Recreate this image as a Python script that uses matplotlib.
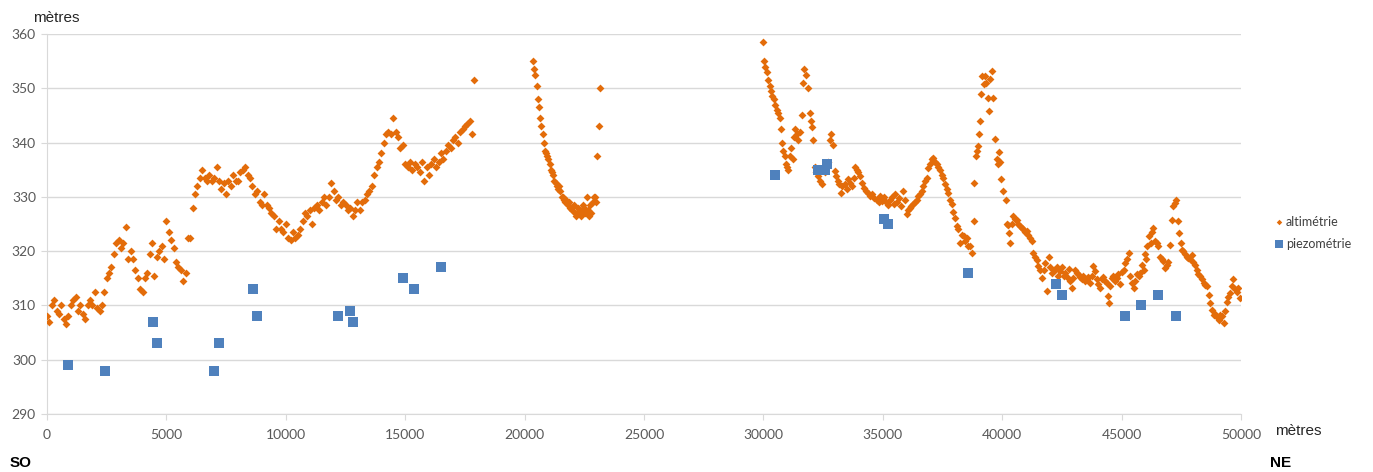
import matplotlib
matplotlib.use("Agg")
import matplotlib.pyplot as plt

# ---------------- data ----------------
# altimetry, segment A (SO part)
alt_x_a = [0, 100, 200, 300, 400, 500, 600, 700, 800, 900,
           1000, 1100, 1200, 1300, 1400, 1500, 1600, 1700, 1800, 1900,
           2000, 2100, 2200, 2300, 2400, 2500, 2600, 2700, 2800, 2900,
           3000, 3100, 3200, 3300, 3400, 3500, 3600, 3700, 3800, 3900,
           4000, 4100, 4200, 4300, 4400, 4500, 4600, 4700, 4800, 4900,
           5000, 5100, 5200, 5300, 5400, 5500, 5600, 5700, 5800, 5900,
           6000, 6100, 6200, 6300, 6400, 6500, 6600, 6700, 6800, 6900,
           7000, 7100, 7200, 7300, 7400, 7500, 7600, 7700, 7800, 7900,
           8000, 8100, 8200, 8300, 8400, 8500, 8600, 8700, 8800, 8900,
           9000, 9100, 9200, 9300, 9400, 9500, 9600, 9700, 9800, 9900,
           10000, 10100, 10200, 10300, 10400, 10500, 10600, 10700, 10800, 10900,
           11000, 11100, 11200, 11300, 11400, 11500, 11600, 11700, 11800, 11900,
           12000, 12100, 12200, 12300, 12400, 12500, 12600, 12700, 12800, 12900,
           13000, 13100, 13200, 13300, 13400, 13500, 13600, 13700, 13800, 13900,
           14000, 14100, 14200, 14300, 14400, 14500, 14600, 14700, 14800, 14900,
           15000, 15100, 15200, 15300, 15400, 15500, 15600, 15700, 15800, 15900,
           16000, 16100, 16200, 16300, 16400, 16500, 16600, 16700, 16800, 16900,
           17000, 17100, 17200, 17300, 17400, 17500, 17600, 17700, 17800, 17900]
alt_y_a = [308, 307, 310, 311, 309, 308.5, 310, 307.5, 306.5, 308,
           310, 311, 311.5, 309, 310, 308.5, 307.5, 310, 311, 310,
           312.5, 309.5, 309, 310, 312.5, 315, 316, 317, 319.5, 321.5,
           322, 320.5, 321.5, 324.5, 318.5, 320, 318.5, 316.5, 315, 313,
           312.5, 315, 316, 319.5, 321.5, 315.5, 319, 320, 321, 318.5,
           325.5, 323.5, 322, 320.5, 318, 317, 316.5, 314.5, 316, 322.5,
           322.5, 328, 330.5, 332, 333.5, 335, 333.5, 333, 334, 333,
           333.5, 335.5, 333, 331.5, 332.5, 330.5, 333, 332, 334, 333,
           333, 334.5, 335, 335.5, 334, 333.5, 332, 330.5, 331, 329,
           328.5, 330.5, 328.5, 328, 327, 326.5, 324, 325.5, 324, 323.5,
           325, 322.5, 322, 323.5, 322.5, 323, 324, 325.5, 327, 326.5,
           327.5, 325, 328, 328.5, 327.5, 329, 330, 328.5, 330, 332.5,
           331, 329.5, 330, 328.5, 329, 328.5, 327.5, 328, 326.5, 327.5,
           329, 327.5, 329, 329.5, 330.5, 331, 332, 334, 335.5, 336.5,
           338, 340, 341.5, 342, 341.5, 344.5, 342, 341, 339, 339.5,
           336, 335.5, 336.5, 335, 336, 335.5, 334.5, 336.5, 333, 335.5,
           334, 336, 337, 335.5, 336.5, 338, 337, 338.5, 339.5, 339,
           340.5, 341, 340, 342, 342.5, 343, 343.5, 344, 341.5, 351.5]

# altimetry, segment B
alt_x_b = [20350, 20400, 20450, 20500, 20550, 20600, 20650, 20700, 20750, 20800,
           20850, 20900, 20950, 21000, 21050, 21100, 21150, 21200, 21250, 21300,
           21350, 21400, 21450, 21500, 21550, 21600, 21650, 21700, 21750, 21800,
           21850, 21900, 21950, 22000, 22050, 22100, 22150, 22200, 22250, 22300,
           22350, 22400, 22450, 22500, 22550, 22600, 22650, 22700, 22750, 22800,
           22850, 22900, 22950, 23000, 23050, 23100, 23150]
alt_y_b = [355, 353.5, 352.5, 350.5, 348, 346.5, 344.5, 343, 341.5, 340,
           338.5, 338, 337.5, 337, 336, 335, 334.5, 334, 333, 332.5,
           332, 331.5, 332, 331, 330, 330, 329.5, 329, 329.5, 328.5,
           329, 328, 328, 327.5, 328.5, 327, 326.5, 327, 328, 327.5,
           326.5, 327, 328.5, 328, 327, 330, 327.5, 326.5, 328.5, 327,
           329, 330, 330, 329, 337.5, 343, 350]

# altimetry, segment C (NE part)
alt_x_c = [29970, 30030, 30080, 30150, 30200, 30260, 30310, 30370, 30430, 30490,
           30550, 30620, 30680, 30730, 30790, 30840, 30900, 30950, 30990, 31050,
           31100, 31160, 31220, 31280, 31330, 31400, 31460, 31530, 31610, 31670,
           31720, 31780, 31870, 31950, 31990, 32020, 32090, 32160, 32220, 32290,
           32360, 32440, 32510, 32580, 32650, 32720, 32790, 32850, 32920, 33000,
           33060, 33120, 33180, 33240, 33300, 33400, 33500, 33560, 33630, 33700,
           33780, 33850, 33910, 33980, 34050, 34120, 34200, 34280, 34380, 34450,
           34550, 34650, 34740, 34820, 34900, 34980, 35060, 35130, 35200, 35310,
           35380, 35450, 35520, 35600, 35680, 35760, 35860, 35930, 36000, 36070,
           36140, 36200, 36270, 36350, 36420, 36490, 36560, 36630, 36700, 36770,
           36840, 36910, 36980, 37050, 37120, 37190, 37260, 37330, 37400, 37470,
           37540, 37620, 37690, 37750, 37820, 37890, 37960, 38030, 38100, 38170,
           38240, 38310, 38380, 38450, 38520, 38580, 38650, 38730, 38800, 38840,
           38900, 38940, 38980, 39030, 39080, 39120, 39170, 39230, 39280, 39340,
           39420, 39460, 39500, 39560, 39620, 39700, 39770, 39830, 39880, 39920,
           39950, 40050, 40150, 40220, 40260, 40300, 40330, 40400, 40470, 40540,
           40610, 40680, 40750, 40820, 40890, 40960, 41030, 41100, 41170, 41240,
           41310, 41380, 41450, 41520, 41590, 41660, 41730, 41800, 41870, 41940,
           42010, 42080, 42150, 42210, 42280, 42350, 42430, 42500, 42570, 42640,
           42710, 42780, 42850, 42910, 42980, 43050, 43120, 43190, 43260, 43330,
           43400, 43470, 43540, 43610, 43680, 43750, 43820, 43890, 43960, 44030,
           44100, 44170, 44240, 44310, 44380, 44450, 44480, 44520, 44590, 44660,
           44730, 44800, 44870, 44940, 45010, 45080, 45150, 45220, 45290, 45360,
           45430, 45500, 45570, 45640, 45710, 45780, 45850, 45920, 45990, 46040,
           46080, 46150, 46220, 46290, 46330, 46400, 46470, 46540, 46610, 46680,
           46750, 46820, 46890, 46950, 47030, 47100, 47170, 47230, 47280, 47350,
           47420, 47480, 47520, 47590, 47660, 47730, 47800, 47870, 47940, 48010,
           48080, 48150, 48220, 48290, 48360, 48430, 48500, 48570, 48640, 48710,
           48780, 48850, 48920, 48990, 49060, 49130, 49200, 49270, 49340, 49400,
           49470, 49540, 49610, 49680, 49750, 49820, 49890, 49960]
alt_y_c = [358.5, 355, 354, 353, 351.5, 350.5, 349.5, 348.5, 348, 347,
           346, 345.5, 344.5, 342.5, 340, 338.5, 337.5, 336, 335.5, 335,
           337.5, 339, 337, 341, 342.5, 341.5, 340.5, 342, 345, 351,
           353.5, 352.5, 350, 345.5, 344, 342.8, 340.5, 335.5, 334.5, 333.8,
           333, 332.3, 335.5, 334.5, 336, 336.5, 340.5, 341.5, 339.5, 334.8,
           333.8, 333, 332.3, 330.8, 332, 332.3, 331.5, 333.2, 332.5, 332,
           333.5, 335.5, 335, 334.5, 333.8, 332.5, 331.7, 331, 330.8, 330.2,
           330.5, 329.8, 329.5, 329, 330.2, 329.2, 330, 329, 328.5, 329.5,
           330, 328.6, 330.5, 329, 329.8, 328.4, 331, 329.5, 326.8, 327.5,
           328, 328.4, 328.6, 329, 329.5, 330.1, 330.5, 331, 332, 332.9,
           333.5, 335.4, 336, 337, 337.2, 336.5, 336, 335.5, 335, 334,
           333.5, 332.3, 331.5, 330.8, 329.5, 328.6, 327.2, 326.1, 324.6, 324,
           321.5, 323, 322.7, 321.8, 322.5, 321, 320.9, 319.7, 325.5, 332.6,
           337.5, 338.5, 339.4, 341.5, 344, 349, 352.3, 350.7, 352.2, 351,
           348.3, 345.8, 351.7, 353.2, 348.3, 340.6, 336.9, 336, 338.3, 336.4,
           333.2, 331, 329.5, 325, 324.9, 323.4, 321.5, 325, 326.4, 326,
           325.8, 325, 324.6, 324.3, 324, 323.5, 323.7, 323, 322.5, 321.8,
           319.7, 319, 318.4, 317.2, 316.5, 315.1, 316.5, 317.9, 312.6, 319,
           317, 316, 316.6, 316.6, 317, 315.5, 316.3, 317, 315.4, 316,
           315.2, 316.8, 314.5, 313.2, 315, 316.6, 316, 315.8, 315.2, 314.8,
           315.4, 314.5, 314.8, 315.2, 314.1, 315.5, 317.2, 316.3, 314.8, 314,
           313.2, 314.8, 315.2, 314.5, 314.1, 311.7, 310.4, 313.5, 315.1, 315.4,
           314.5, 315, 315.7, 313.9, 316.2, 316.6, 317.8, 318.5, 319.7, 315.4,
           314.1, 313.2, 314.5, 315.7, 315.4, 316, 317.5, 316.6, 319.4, 318.5,
           320.9, 322.7, 321.5, 323.5, 324.3, 321.8, 321.5, 320.9, 319, 318.6,
           318.1, 316.9, 317.5, 318, 321.2, 325.8, 328.3, 328.8, 329.5, 325.5,
           323.4, 321.5, 320.3, 320, 319.5, 319, 318.8, 318.5, 319.2, 318,
           317.5, 316.5, 315.8, 315.4, 314.8, 314.1, 313.8, 313.5, 311.9, 310.5,
           309.2, 308.3, 308.5, 307.8, 307.4, 308.3, 308, 306.8, 309, 310.7,
           311.5, 312.2, 313.5, 314.8, 313, 312.5, 313.2, 311.4]

# piezometry
piezo_x = [900, 2430, 4440, 4600, 6990, 7200, 8630, 8800, 12190, 12690,
           12810, 14910, 15370, 16500, 30490, 32290, 32580, 32680, 35050, 35220,
           38570, 42250, 42500, 45140, 45810, 46520, 47280]
piezo_y = [299, 298, 307, 303, 298, 303, 313, 308, 308, 309,
           307, 315, 313, 317, 334, 335, 335, 336, 326, 325,
           316, 314, 312, 308, 310, 312, 308]

x_ticks = [0, 5000, 10000, 15000, 20000, 25000, 30000, 35000, 40000, 45000, 50000]
y_ticks = [290, 300, 310, 320, 330, 340, 350, 360]
series_names = ["altimétrie", "piezométrie"]
axis_unit = "mètres"
dir_left, dir_right = "SO", "NE"

# ---------------- styling ----------------
ORANGE = "#E36C0A"
BLUE = "#4F81BD"
GRID = "#D9D9D9"
TXT = "#595959"

plt.rcParams["font.family"] = ["Lato", "DejaVu Sans"]

W, H = 1373, 472
fig = plt.figure(figsize=(W / 100, H / 100), dpi=100)
ax = fig.add_axes([47 / W, 1 - 414 / H, (1241 - 47) / W, (414 - 34) / H])

alt_x = alt_x_a + alt_x_b + alt_x_c
alt_y = alt_y_a + alt_y_b + alt_y_c
ax.scatter(alt_x, alt_y, marker="D", s=16, color=ORANGE, linewidths=0,
           label=series_names[0], zorder=3)
ax.scatter(piezo_x, piezo_y, marker="s", s=52, color=BLUE, linewidths=0,
           label=series_names[1], zorder=4)

ax.set_xlim(0, 50000)
ax.set_ylim(290, 360)
ax.set_xticks(x_ticks)
ax.set_yticks(y_ticks)
ax.set_xticklabels([str(v) for v in x_ticks])
ax.set_yticklabels([str(v) for v in y_ticks])
ax.grid(axis="y", color=GRID, linewidth=1)
ax.set_axisbelow(True)
for s in ["top", "right"]:
    ax.spines[s].set_visible(False)
ax.spines["left"].set_color(GRID)
ax.spines["bottom"].set_color(GRID)
ax.tick_params(axis="both", colors=GRID, labelcolor=TXT, labelsize=10, length=4)
ax.tick_params(axis="x", pad=7)
ax.tick_params(axis="y", pad=4)

leg = ax.legend(loc="upper left", bbox_to_anchor=(1.022, 0.535), frameon=False,
                fontsize=9, handletextpad=0.1, labelspacing=0.8,
                handlelength=1.0, markerscale=0.7, borderaxespad=0)
for t in leg.get_texts():
    t.set_color("#404040")

fig.text(33 / W, 1 - 18 / H, axis_unit, fontsize=11, color="#262626",
         family=["Liberation Sans", "DejaVu Sans"], va="center", ha="left")
fig.text(1275 / W, 1 - 431 / H, axis_unit, fontsize=11, color="#262626",
         family=["Liberation Sans", "DejaVu Sans"], va="center", ha="left")
fig.text(10 / W, 1 - 463 / H, dir_left, fontsize=11, fontweight="bold",
         family=["Liberation Sans", "DejaVu Sans"], va="center", ha="left")
fig.text(1270 / W, 1 - 463 / H, dir_right, fontsize=11, fontweight="bold",
         family=["Liberation Sans", "DejaVu Sans"], va="center", ha="left")

fig.savefig("out.png", dpi=100, facecolor="white")
